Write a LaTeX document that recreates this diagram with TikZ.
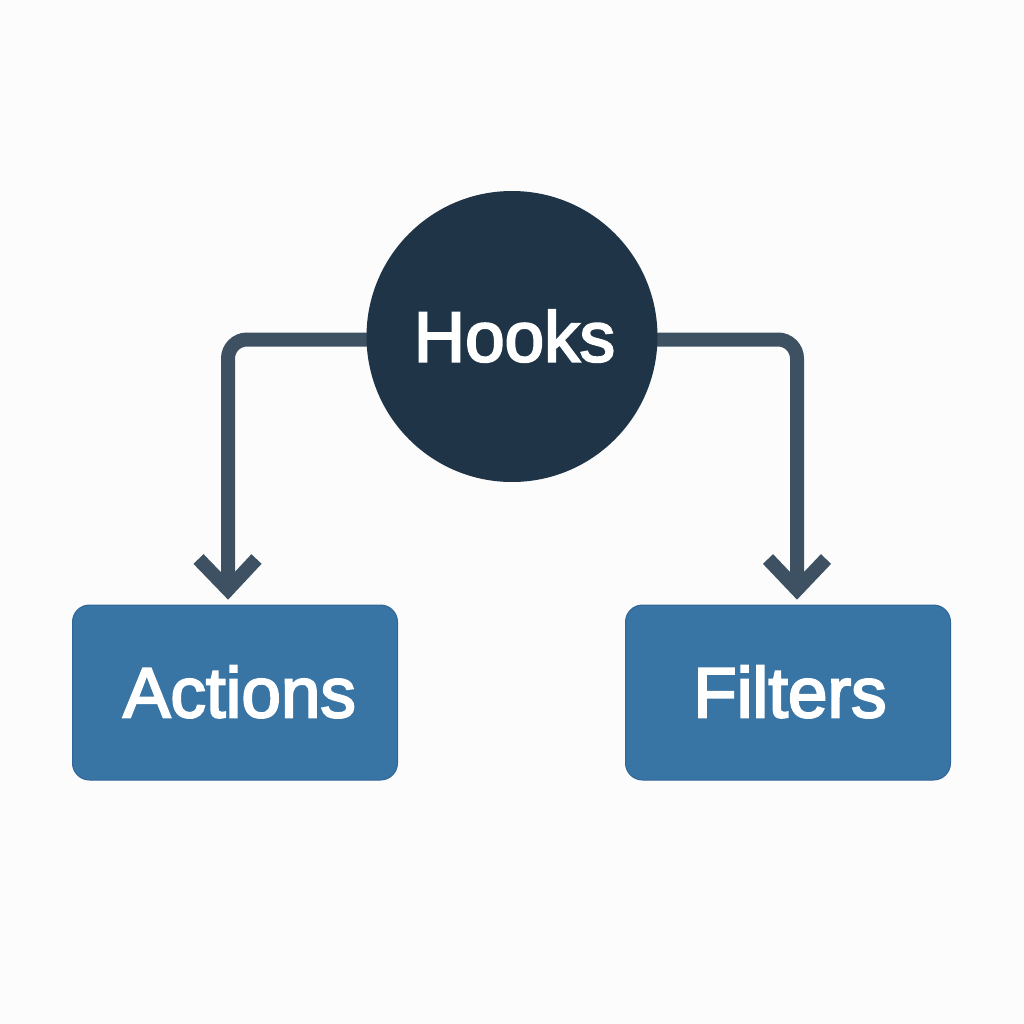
\documentclass[tikz,border=0pt]{standalone}
\usepackage{fontspec}
\newfontfamily\lab[FakeBold=3]{Liberation Sans}
\usetikzlibrary{arrows.meta,backgrounds}
\definecolor{bgc}{HTML}{FCFCFC}
\definecolor{hub}{HTML}{203448}
\definecolor{boxc}{HTML}{3874A4}
\definecolor{boxedge}{HTML}{2F6698}
\definecolor{linec}{HTML}{3D5163}
\newcommand{\nudged}[3]{\hspace*{#1}\raisebox{#2}{#3}}
\tikzset{
 x=1pt,y=-1pt,
 hubnode/.style={circle,fill=hub,minimum size=291pt,inner sep=0pt,text=white,font=\lab\fontsize{71}{74}\selectfont},
 boxnode/.style={rectangle,rounded corners=17pt,fill=boxc,draw=boxedge,line width=1pt,minimum width=325pt,minimum height=175pt,inner sep=0pt,text=white,font=\lab\fontsize{71}{74}\selectfont},
 conn/.style={draw=linec,line width=14pt,rounded corners=19pt},
 headtip/.style={draw=linec,line width=14pt,line cap=butt,miter limit=10}
}
\begin{document}
\begin{tikzpicture}
\useasboundingbox (0,0) rectangle (1024,1024);
\node[hubnode] (hooks) at (512,336.5) {\nudged{5pt}{1.5pt}{Hooks}};
\node[boxnode] (actions) at (235,692.5) {\nudged{9pt}{2pt}{Actions}};
\node[boxnode] (filters) at (788,692.5) {\nudged{4pt}{2pt}{Filters}};
\coordinate (hl) at ([yshift=-3pt]hooks.center);
\coordinate (la) at (228,589.5);
\coordinate (lb) at (797,589.5);
\coordinate (la1) at (198.5,559);
\coordinate (la2) at (256.5,559);
\coordinate (lb1) at (768,559);
\coordinate (lb2) at (826,559);
\begin{scope}[on background layer]
\fill[bgc] (0,0) rectangle (1024,1024);
\draw[conn] (hl) -- (228,339.5) -- (la);
\draw[conn] (hl) -- (797,339.5) -- (lb);
\draw[headtip] (la1) -- (la) -- (la2);
\draw[headtip] (lb1) -- (lb) -- (lb2);
\end{scope}
\end{tikzpicture}
\end{document}
